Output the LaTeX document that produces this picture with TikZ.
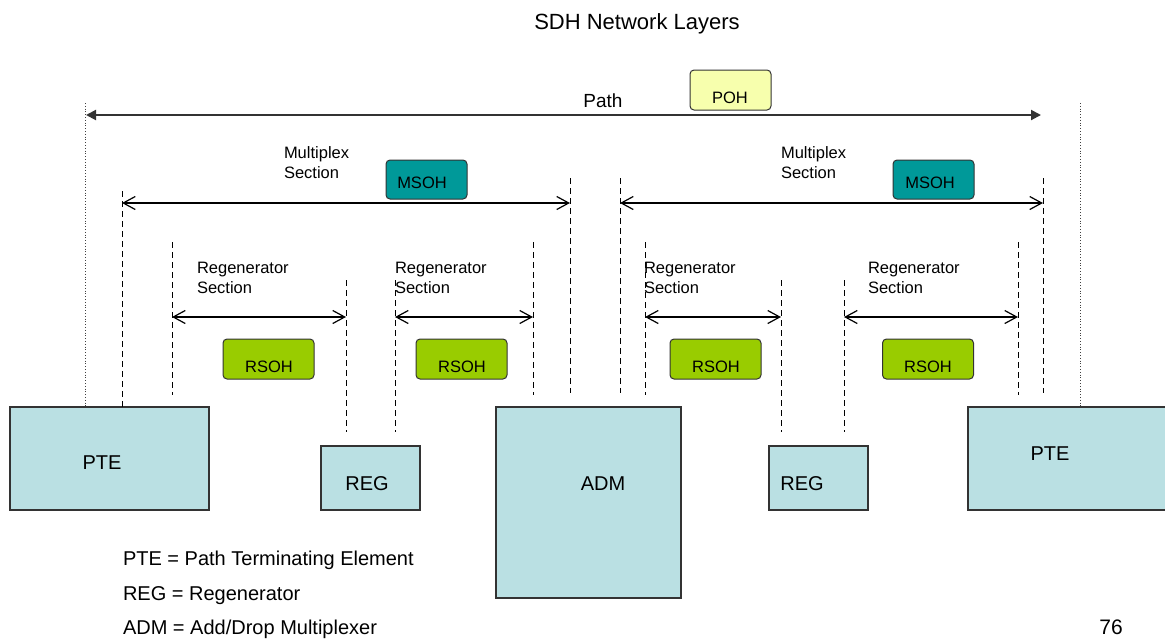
\documentclass[tikz,border=0pt]{standalone}
\usepackage{fontspec}
\setmainfont{Liberation Sans}
\usetikzlibrary{arrows.meta}
\definecolor{boxfill}{HTML}{BAE0E3}
\definecolor{pohfill}{HTML}{F7FFAD}
\definecolor{msohfill}{HTML}{009999}
\definecolor{rsohfill}{HTML}{99CC00}
\definecolor{edge}{HTML}{333333}
\begin{document}
\begin{tikzpicture}[x=1pt,y=-1pt,
  every node/.style={inner sep=0pt, outer sep=0pt},
  elem/.style={draw=edge, line width=1.3pt, fill=boxfill},
  elemtext/.style={font=\fontsize{20}{24}\selectfont, anchor=base},
  ovh/.style={draw=edge, line width=1pt, rounded corners=4pt},
  ovhtext/.style={font=\fontsize{16.5}{19}\selectfont, anchor=base},
  sectext/.style={font=\fontsize{16.5}{20}\selectfont, align=left, anchor=north west},
  legend/.style={font=\fontsize{20}{24}\selectfont, anchor=base west},
  pathline/.style={line width=2pt, draw=edge, {Triangle[length=10pt,width=10pt]}-{Triangle[length=10pt,width=10pt]}},
  secline/.style={line width=1.2pt, draw=black, {Straight Barb[length=12pt,width=13pt]}-{Straight Barb[length=12pt,width=13pt]}},
  dashline/.style={line width=1pt, dash pattern=on 6pt off 4pt},
  dotline/.style={line width=0.8pt, draw=darkgray, dotted}
]
\useasboundingbox (0,0) rectangle (1165,638);

% title
\node[font=\fontsize{22}{26}\selectfont, anchor=base] (title) at (637,29) {SDH Network Layers};

% elements
\node[elem, minimum width=199pt, minimum height=103pt] (pteL) at (109.5,458.5) {};
\node[elem, minimum width=99pt, minimum height=64pt] (regL) at (370.5,478) {};
\node[elem, minimum width=185pt, minimum height=191pt] (adm) at (588.5,502.5) {};
\node[elem, minimum width=99pt, minimum height=64pt] (regR) at (818.5,478) {};
\node[elem, minimum width=205pt, minimum height=103pt] (pteR) at (1070.5,458.5) {};

\node[elemtext] (pteLt) at (102,469) {PTE};
\node[elemtext] (regLt) at (367,490) {REG};
\node[elemtext] (admt) at (603,490) {ADM};
\node[elemtext] (regRt) at (802,490) {REG};
\node[elemtext] (pteRt) at (1050,460) {PTE};

% path layer
\node[font=\fontsize{19}{22}\selectfont, anchor=base] (pathlbl) at (603,107) {Path};
\node[ovh, fill=pohfill, minimum width=81pt, minimum height=40pt] (poh) at (730.5,90) {};
\node[ovhtext] (poht) at (730,103) {POH};
\coordinate (pA) at (86,115);
\coordinate (pB) at (1041,115);
\draw[pathline] (pA) -- (pB);

\coordinate (dL1) at (85,103); \coordinate (dL2) at (85,407);
\coordinate (dR1) at (1080,103); \coordinate (dR2) at (1080,407);
\draw[dotline] (dL1) -- (dL2);
\draw[dotline] (dR1) -- (dR2);

% multiplex sections
\node[sectext] (msL) at (284,147) {Multiplex\\Section};
\node[sectext] (msR) at (781,147) {Multiplex\\Section};
\node[ovh, fill=msohfill, minimum width=81pt, minimum height=39pt] (msohL) at (426.5,179.5) {};
\node[ovhtext] (msohLt) at (422,188) {MSOH};
\node[ovh, fill=msohfill, minimum width=81pt, minimum height=39pt] (msohR) at (933.5,179.5) {};
\node[ovhtext] (msohRt) at (930,188) {MSOH};

\coordinate (m1a) at (122,203); \coordinate (m1b) at (570,203);
\coordinate (m2a) at (620,203); \coordinate (m2b) at (1043,203);
\draw[secline] (m1a) -- (m1b);
\draw[secline] (m2a) -- (m2b);

% regenerator sections
\node[sectext] (rs1) at (197,262) {Regenerator\\Section};
\node[sectext] (rs2) at (395,262) {Regenerator\\Section};
\node[sectext] (rs3) at (644,262) {Regenerator\\Section};
\node[sectext] (rs4) at (868,262) {Regenerator\\Section};

\coordinate (r1a) at (172,317); \coordinate (r1b) at (346,317);
\coordinate (r2a) at (395,317); \coordinate (r2b) at (533,317);
\coordinate (r3a) at (645,317); \coordinate (r3b) at (781,317);
\coordinate (r4a) at (844,317); \coordinate (r4b) at (1018,317);
\draw[secline] (r1a) -- (r1b);
\draw[secline] (r2a) -- (r2b);
\draw[secline] (r3a) -- (r3b);
\draw[secline] (r4a) -- (r4b);

\node[ovh, fill=rsohfill, minimum width=91pt, minimum height=40pt] (rsoh1) at (268.5,359) {};
\node[ovh, fill=rsohfill, minimum width=91pt, minimum height=40pt] (rsoh2) at (461.5,359) {};
\node[ovh, fill=rsohfill, minimum width=91pt, minimum height=40pt] (rsoh3) at (715.5,359) {};
\node[ovh, fill=rsohfill, minimum width=91pt, minimum height=40pt] (rsoh4) at (928,359) {};
\node[ovhtext] (rsoh1t) at (269,372) {RSOH};
\node[ovhtext] (rsoh2t) at (462,372) {RSOH};
\node[ovhtext] (rsoh3t) at (716,372) {RSOH};
\node[ovhtext] (rsoh4t) at (928,372) {RSOH};

% dashed boundaries
\foreach \x/\a/\b in {122/191/407, 172/242/395, 346/280/432, 395/280/432, 533/242/395, 570/178/393,
                      620/178/393, 645/242/395, 781/280/432, 844/280/432, 1018/242/395, 1043/178/393}{
  \coordinate (t\x) at (\x,\a);
  \coordinate (b\x) at (\x,\b);
  \draw[dashline] (t\x) -- (b\x);
}

% legend
\node[legend] (lg1) at (123,565) {PTE = Path Terminating Element};
\node[legend] (lg2) at (123,600) {REG = Regenerator};
\node[legend] (lg3) at (123,634) {ADM = Add/Drop Multiplexer};
\node[font=\fontsize{21}{25}\selectfont, anchor=base] (pagenum) at (1111,634) {76};
\end{tikzpicture}
\end{document}
